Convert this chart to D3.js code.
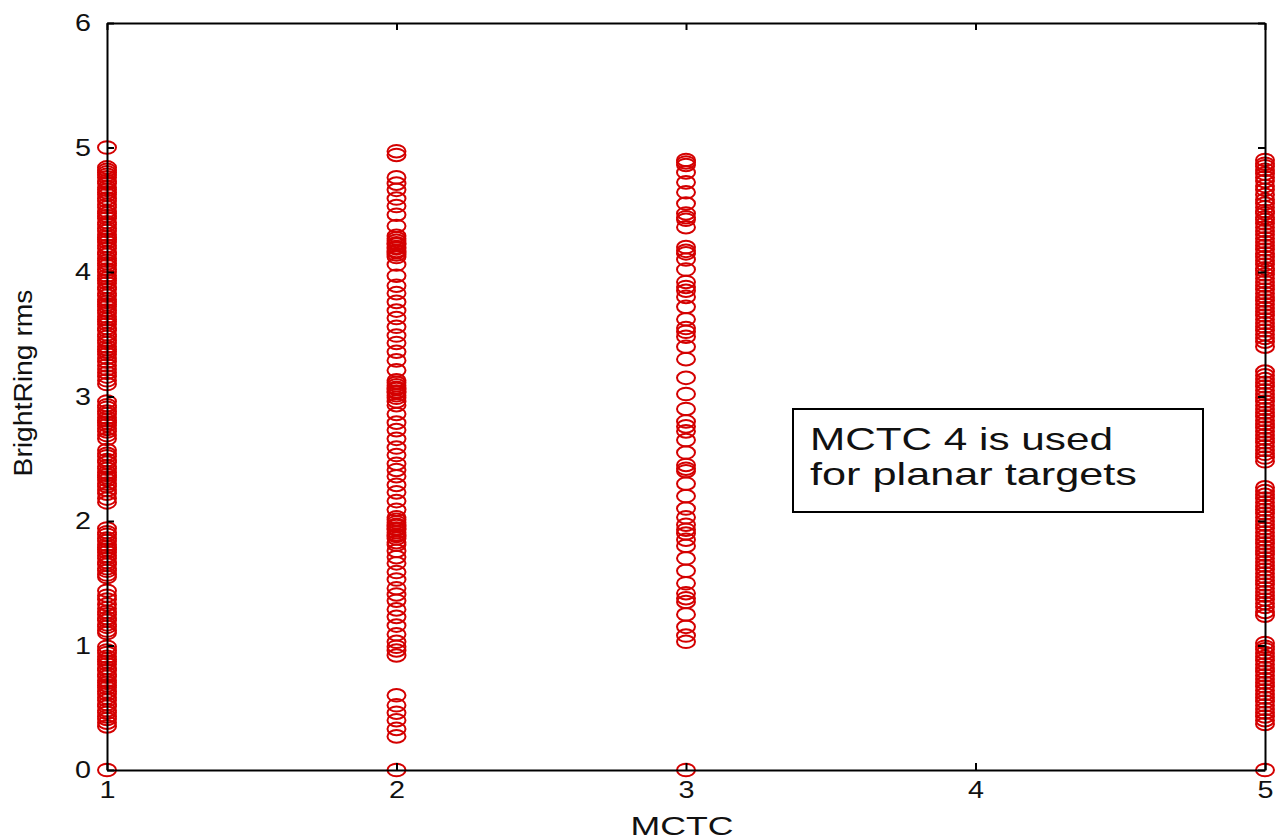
<!DOCTYPE html>
<html>
<head>
<meta charset="utf-8">
<script src="https://cdn.jsdelivr.net/npm/d3@7"></script>
<style>
  body { margin: 0; background: #fff; }
  svg { display: block; }
  .axis path, .axis line { stroke: #000; stroke-width: 2; }
  .axis text { font-family: "Liberation Sans", Arial, sans-serif; font-size: 24px; fill: #111; }
</style>
</head>
<body>
<script>

// MCTC categories and the BrightRing rms readings for each one
var mctc = [1, 2, 3, 5];

var rms_mctc1 = [5.00, 4.84, 4.82, 4.80, 4.78, 4.76, 4.73, 4.71, 4.68, 4.66, 4.64, 4.62, 4.59,
  4.57, 4.54, 4.52, 4.49, 4.47, 4.45, 4.43, 4.40, 4.38, 4.35, 4.33, 4.30, 4.28, 4.26, 4.24,
  4.21, 4.19, 4.16, 4.14, 4.11, 4.09, 4.07, 4.05, 4.02, 4.00, 3.97, 3.95, 3.93, 3.91, 3.88,
  3.86, 3.83, 3.81, 3.78, 3.76, 3.74, 3.72, 3.69, 3.67, 3.64, 3.62, 3.60, 3.58, 3.55, 3.53,
  3.50, 3.48, 3.45, 3.43, 3.40, 3.38, 3.36, 3.34, 3.31, 3.28, 3.25, 3.22, 3.19, 3.16, 3.13,
  3.10, 2.96, 2.93, 2.91, 2.88, 2.86, 2.83, 2.81, 2.79, 2.77, 2.74, 2.72, 2.69, 2.66, 2.57,
  2.54, 2.52, 2.49, 2.47, 2.44, 2.42, 2.39, 2.37, 2.35, 2.33, 2.30, 2.28, 2.25, 2.22, 2.18,
  2.15, 1.94, 1.91, 1.89, 1.86, 1.84, 1.81, 1.79, 1.77, 1.75, 1.72, 1.70, 1.67, 1.65, 1.62,
  1.60, 1.57, 1.55, 1.44, 1.40, 1.37, 1.33, 1.30, 1.27, 1.25, 1.22, 1.20, 1.17, 1.15, 1.12,
  1.10, 0.99, 0.96, 0.94, 0.91, 0.89, 0.87, 0.85, 0.82, 0.80, 0.77, 0.75, 0.72, 0.70, 0.68,
  0.66, 0.63, 0.61, 0.58, 0.56, 0.53, 0.51, 0.48, 0.46, 0.43, 0.41, 0.38, 0.35, 0];

var rms_mctc2 = [4.97, 4.94, 4.76, 4.71, 4.66, 4.59, 4.53, 4.46, 4.37, 4.29, 4.27, 4.25, 4.23,
  4.22, 4.20, 4.19, 4.17, 4.16, 4.14, 4.12, 4.06, 3.97, 3.89, 3.83, 3.76, 3.69, 3.63, 3.56,
  3.49, 3.43, 3.36, 3.29, 3.21, 3.13, 3.11, 3.09, 3.07, 3.06, 3.04, 3.03, 3.01, 2.99, 2.96,
  2.93, 2.86, 2.79, 2.73, 2.66, 2.59, 2.53, 2.46, 2.41, 2.36, 2.29, 2.23, 2.16, 2.09, 2.03,
  2.01, 1.99, 1.97, 1.96, 1.94, 1.93, 1.91, 1.89, 1.88, 1.86, 1.83, 1.81, 1.76, 1.71, 1.66,
  1.59, 1.53, 1.46, 1.41, 1.36, 1.29, 1.23, 1.16, 1.09, 1.03, 0.99, 0.96, 0.92, 0.60, 0.52,
  0.46, 0.40, 0.33, 0.27, 0];

var rms_mctc3 = [4.90, 4.88, 4.86, 4.80, 4.72, 4.64, 4.55, 4.47, 4.44, 4.42, 4.36, 4.20, 4.17,
  4.15, 4.10, 4.02, 3.92, 3.88, 3.85, 3.80, 3.72, 3.62, 3.55, 3.52, 3.48, 3.40, 3.30, 3.15,
  3.02, 2.90, 2.80, 2.76, 2.72, 2.65, 2.55, 2.45, 2.42, 2.40, 2.30, 2.20, 2.10, 2.03, 1.97,
  1.93, 1.90, 1.85, 1.80, 1.70, 1.60, 1.50, 1.42, 1.38, 1.35, 1.25, 1.15, 1.08, 1.03, 0];

var rms_mctc5 = [4.90, 4.87, 4.85, 4.82, 4.79, 4.76, 4.73, 4.69, 4.66, 4.62, 4.58, 4.55, 4.52,
  4.49, 4.47, 4.44, 4.42, 4.39, 4.36, 4.33, 4.30, 4.27, 4.24, 4.21, 4.18, 4.15, 4.12, 4.09,
  4.06, 4.03, 4.01, 3.98, 3.95, 3.92, 3.89, 3.86, 3.83, 3.80, 3.77, 3.74, 3.71, 3.68, 3.65,
  3.62, 3.59, 3.56, 3.53, 3.50, 3.47, 3.44, 3.40, 3.20, 3.17, 3.14, 3.11, 3.08, 3.05, 3.02,
  2.99, 2.96, 2.93, 2.90, 2.87, 2.84, 2.81, 2.78, 2.75, 2.72, 2.69, 2.66, 2.63, 2.60, 2.57,
  2.54, 2.51, 2.48, 2.27, 2.24, 2.21, 2.18, 2.15, 2.12, 2.09, 2.06, 2.03, 2.00, 1.97, 1.94,
  1.91, 1.88, 1.85, 1.82, 1.79, 1.76, 1.73, 1.70, 1.67, 1.64, 1.61, 1.58, 1.55, 1.52, 1.49,
  1.46, 1.43, 1.40, 1.37, 1.34, 1.31, 1.27, 1.24, 1.02, 0.99, 0.97, 0.94, 0.91, 0.88, 0.85,
  0.82, 0.79, 0.76, 0.73, 0.70, 0.67, 0.64, 0.61, 0.58, 0.55, 0.52, 0.49, 0.46, 0.43, 0.40,
  0.37, 0];

var rms_by_mctc = [rms_mctc1, rms_mctc2, rms_mctc3, rms_mctc5];

var x_ticks = [1, 2, 3, 4, 5];
var y_ticks = [0, 1, 2, 3, 4, 5, 6];

var note_lines = ["MCTC 4 is used", "for planar targets"];


var size_graph = { x : 1280, y : 840 };
var margin = {top: 23, right: 15, bottom: 70, left: 107},
    width  = size_graph.x - margin.left - margin.right,
    height = size_graph.y - margin.top - margin.bottom;

var x = d3.scaleLinear().domain([1, 5]).range([0, width]);
var y = d3.scaleLinear().domain([0, 6]).range([height, 0]);

var points = [];
mctc.forEach((m, i) => rms_by_mctc[i].forEach(v => points.push({x: m, y: v})));

var svg = d3.select("body").append("svg")
    .attr("width", size_graph.x)
    .attr("height", size_graph.y);

var g = svg.append("g")
    .attr("transform", `translate(${margin.left},${margin.top})`);

// markers (open circles, squashed like the original export)
g.selectAll(".pt")
    .data(points)
    .enter().append("ellipse")
    .attr("class", "pt")
    .attr("cx", d => x(d.x))
    .attr("cy", d => y(d.y))
    .attr("rx", 9)
    .attr("ry", 6.3)
    .attr("fill", "none")
    .attr("stroke", "#d40000")
    .attr("stroke-width", 2);

// axes, ticks pointing inward on all four sides
g.append("g").attr("class", "axis")
    .attr("transform", `translate(0,${height})`)
    .call(d3.axisBottom(x).tickValues(x_ticks).tickSize(-7).tickSizeOuter(0).tickPadding(11).tickFormat(d3.format("d")))
    .selectAll("text").attr("textLength", 16).attr("lengthAdjust", "spacingAndGlyphs");

g.append("g").attr("class", "axis")
    .call(d3.axisTop(x).tickValues(x_ticks).tickSize(-7).tickSizeOuter(0).tickFormat(""));

g.append("g").attr("class", "axis")
    .call(d3.axisLeft(y).tickValues(y_ticks).tickSize(-7).tickSizeOuter(0).tickPadding(16).tickFormat(d3.format("d")))
    .selectAll("text").attr("textLength", 16).attr("lengthAdjust", "spacingAndGlyphs");

g.append("g").attr("class", "axis")
    .attr("transform", `translate(${width},0)`)
    .call(d3.axisRight(y).tickValues(y_ticks).tickSize(-7).tickSizeOuter(0).tickFormat(""));

// axis labels
g.append("text")
    .attr("x", x(3) - 4)
    .attr("y", height + 65)
    .attr("text-anchor", "middle")
    .attr("font-family", "Liberation Sans, Arial, sans-serif")
    .attr("font-size", 25)
    .attr("fill", "#111")
    .attr("textLength", 103)
    .attr("lengthAdjust", "spacingAndGlyphs")
    .text("MCTC");

svg.append("text")
    .attr("transform", "translate(32,383) rotate(-90)")
    .attr("text-anchor", "middle")
    .attr("font-family", "Liberation Sans, Arial, sans-serif")
    .attr("font-size", 25)
    .attr("fill", "#111")
    .attr("textLength", 187)
    .attr("lengthAdjust", "spacingAndGlyphs")
    .text("BrightRing rms");

// annotation box
var note = svg.append("g").attr("transform", "translate(793,409)");
note.append("rect")
    .attr("width", 410)
    .attr("height", 103)
    .attr("fill", "#fff")
    .attr("stroke", "#000")
    .attr("stroke-width", 2);

note.selectAll(".note")
    .data(note_lines)
    .enter().append("text")
    .attr("x", 17)
    .attr("y", (d, i) => 41 + i * 35)
    .attr("font-family", "Liberation Sans, Arial, sans-serif")
    .attr("font-size", 32)
    .attr("fill", "#111")
    .attr("textLength", (d, i) => i === 0 ? 303 : 327)
    .attr("lengthAdjust", "spacingAndGlyphs")
    .text(d => d);

</script>
</body>
</html>
